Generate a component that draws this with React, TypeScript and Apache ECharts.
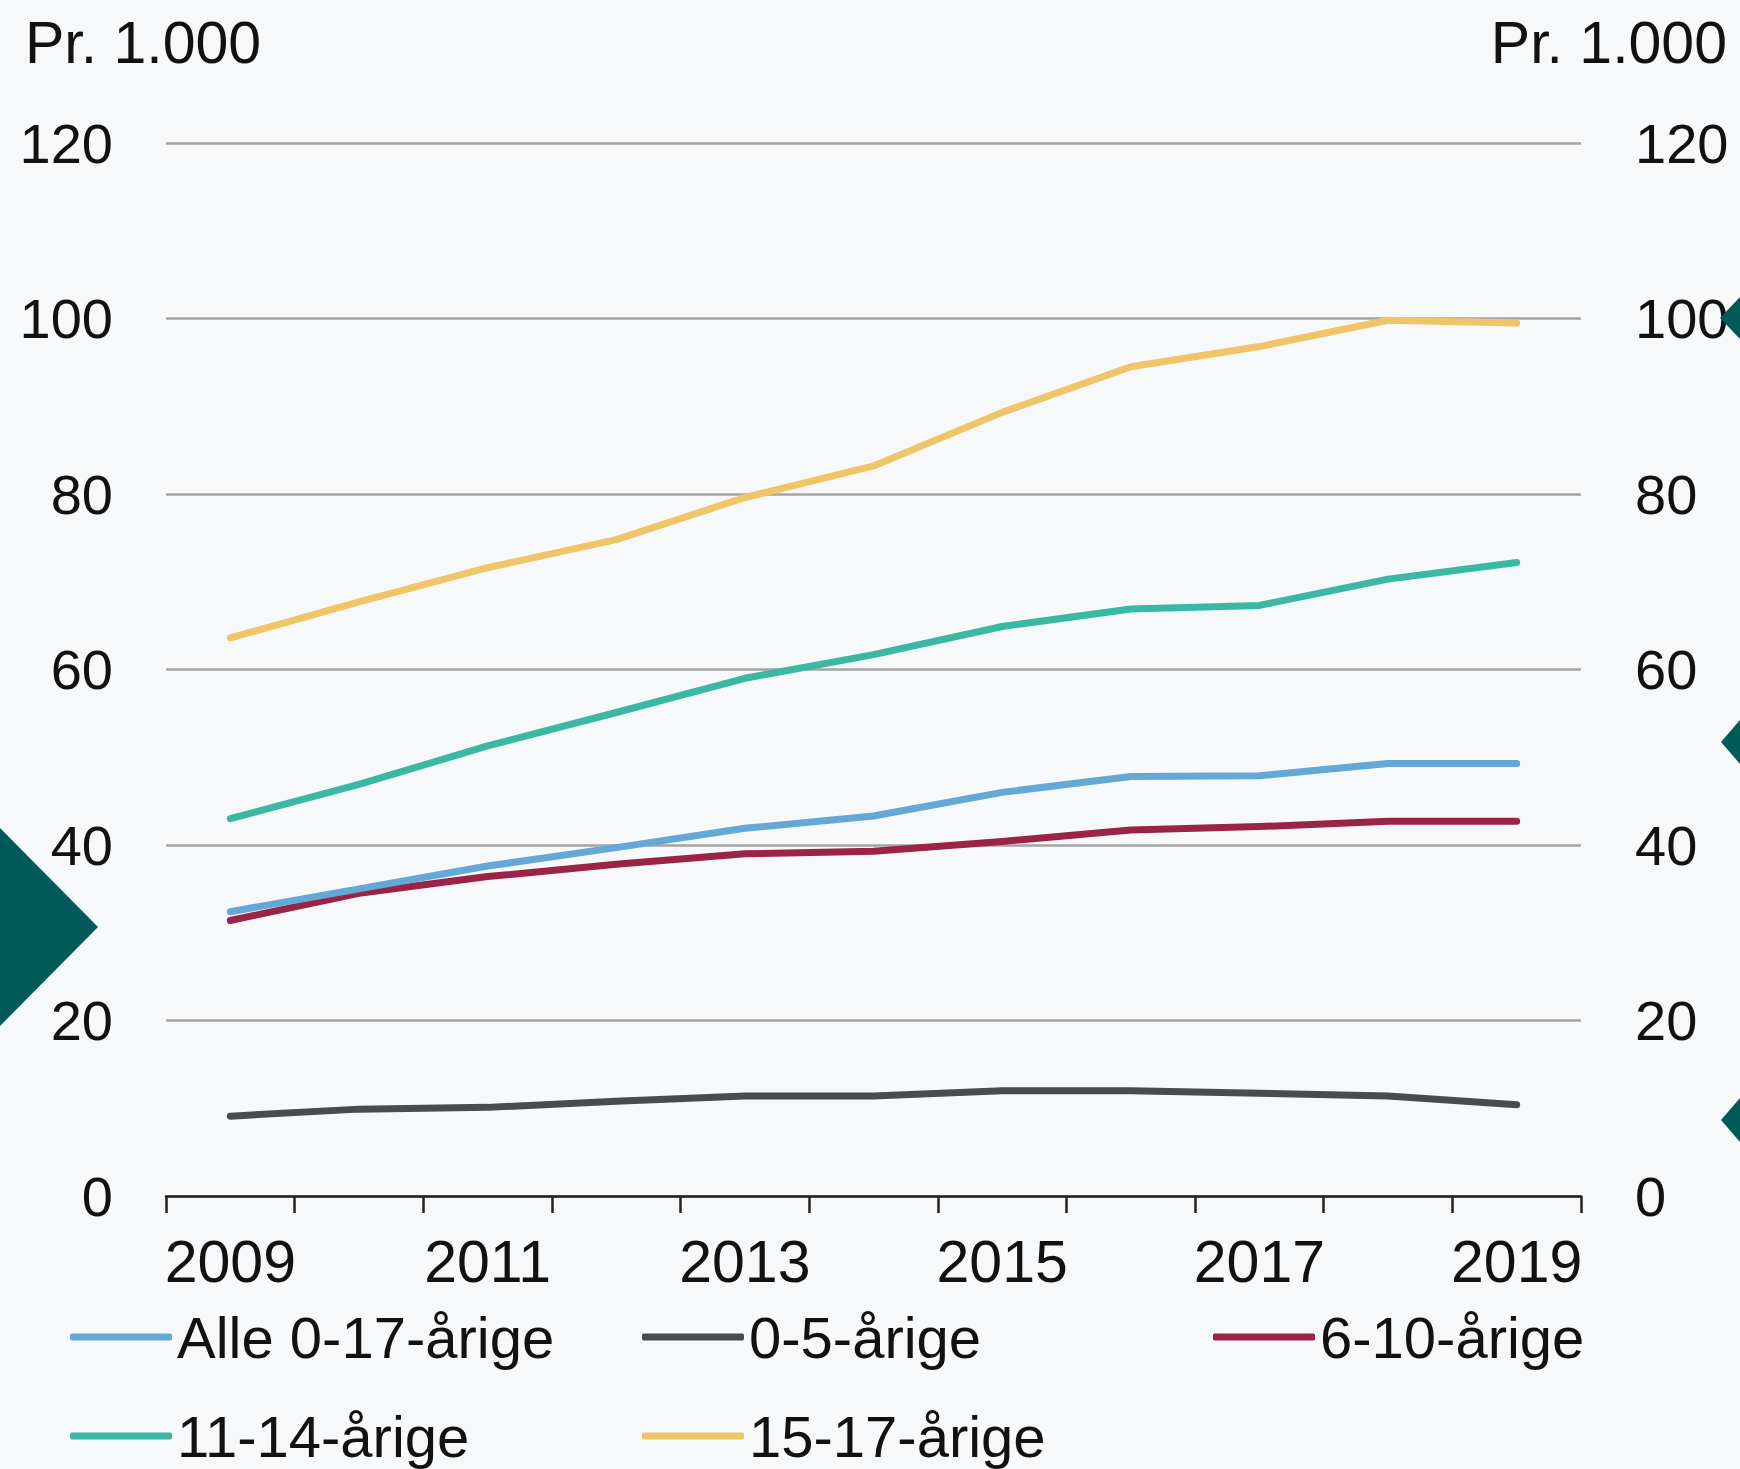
import React, { useEffect, useRef } from "react";
import * as echarts from "echarts";

const years = ["2009", "2010", "2011", "2012", "2013", "2014", "2015", "2016", "2017", "2018", "2019"];
const alle = [32.4, 35.0, 37.6, 39.7, 41.9, 43.3, 46.0, 47.8, 47.9, 49.3, 49.3];
const aar0_5 = [9.1, 9.9, 10.1, 10.8, 11.4, 11.4, 12.0, 12.0, 11.7, 11.4, 10.4];
const aar6_10 = [31.4, 34.5, 36.4, 37.8, 39.0, 39.3, 40.4, 41.7, 42.1, 42.7, 42.7];
const aar11_14 = [43.0, 46.9, 51.3, 55.1, 59.0, 61.7, 64.9, 66.9, 67.3, 70.3, 72.2];
const aar15_17 = [63.6, 67.7, 71.6, 74.8, 79.6, 83.2, 89.3, 94.5, 96.8, 99.8, 99.5];
const seriesNames = ["Alle 0-17-årige", "0-5-årige", "6-10-årige", "11-14-årige", "15-17-årige"];
const seriesColors = ["#64a8d6", "#4a4b4e", "#9a2346", "#3ab8a4", "#f0c568"];
const seriesData = [alle, aar0_5, aar6_10, aar11_14, aar15_17];
const unitLabel = "Pr. 1.000";

const FONT = "'Liberation Sans', Arial, sans-serif";

export default function App() {
  const ref = useRef<HTMLDivElement>(null);
  useEffect(() => {
    document.body.style.margin = "0";
    if (!ref.current) return;
    const chart = echarts.init(ref.current, null, { renderer: "svg" });
    const legendPos = [
      [70, 1308],
      [642, 1308],
      [1213, 1308],
      [70, 1407],
      [642, 1407],
    ];
    const yAxisBase = {
      type: "value",
      min: 0,
      max: 120,
      interval: 20,
      axisLine: { show: false },
      axisTick: { show: false },
      axisLabel: { fontSize: 56, color: "#111", fontFamily: FONT },
    };
    chart.setOption({
      animation: false,
      backgroundColor: "#f6f8fa",
      textStyle: { fontFamily: FONT },
      grid: { left: 166, right: 159, top: 143, bottom: 273 },
      xAxis: {
        type: "category",
        data: years,
        boundaryGap: true,
        axisLine: { lineStyle: { color: "#222", width: 2.5 } },
        axisTick: { show: true, interval: 0, length: 17, lineStyle: { color: "#222", width: 2.5 } },
        axisLabel: { interval: 1, fontSize: 59, color: "#111", margin: 36, fontFamily: FONT },
        splitLine: { show: false },
      },
      yAxis: [
        {
          ...yAxisBase,
          position: "left",
          axisLabel: { ...yAxisBase.axisLabel, margin: 53 },
          splitLine: { show: true, lineStyle: { color: "#a5a5a5", width: 2.5 } },
        },
        {
          ...yAxisBase,
          position: "right",
          axisLabel: { ...yAxisBase.axisLabel, margin: 54 },
          splitLine: { show: false },
        },
      ],
      legend: seriesNames.map((n, i) => ({
        data: [n],
        left: legendPos[i][0],
        top: legendPos[i][1],
        padding: 0,
        icon: "roundRect",
        itemWidth: 102,
        itemHeight: 7,
        itemGap: 0,
        selectedMode: false,
        textStyle: { fontSize: 58, color: "#111", fontFamily: FONT, padding: [0, 0, 0, 0] },
      })),
      series: seriesNames.map((n, i) => ({
        name: n,
        type: "line",
        data: seriesData[i],
        symbol: "none",
        color: seriesColors[i],
        lineStyle: { width: 7, color: seriesColors[i], cap: "round", join: "round" },
        z: 10 - i,
      })),
      graphic: [
        {
          type: "text",
          left: 25,
          top: 13,
          style: { text: unitLabel, fill: "#111", font: `59px ${FONT}` },
        },
        {
          type: "text",
          right: 13,
          top: 13,
          style: { text: unitLabel, fill: "#111", font: `59px ${FONT}` },
        },
        {
          type: "polygon",
          shape: { points: [[0, 828], [98, 927], [0, 1026]] },
          style: { fill: "#005a5a" },
          z: 100,
        },
        {
          type: "polygon",
          shape: { points: [[1740, 297], [1720, 318], [1740, 339]] },
          style: { fill: "#005a5a" },
          z: 100,
        },
        {
          type: "polygon",
          shape: { points: [[1740, 720], [1721, 742], [1740, 764]] },
          style: { fill: "#005a5a" },
          z: 100,
        },
        {
          type: "polygon",
          shape: { points: [[1740, 1098], [1721, 1120], [1740, 1142]] },
          style: { fill: "#005a5a" },
          z: 100,
        },
      ],
    });
    return () => chart.dispose();
  }, []);
  return <div ref={ref} style={{ width: 1740, height: 1469 }} />;
}
